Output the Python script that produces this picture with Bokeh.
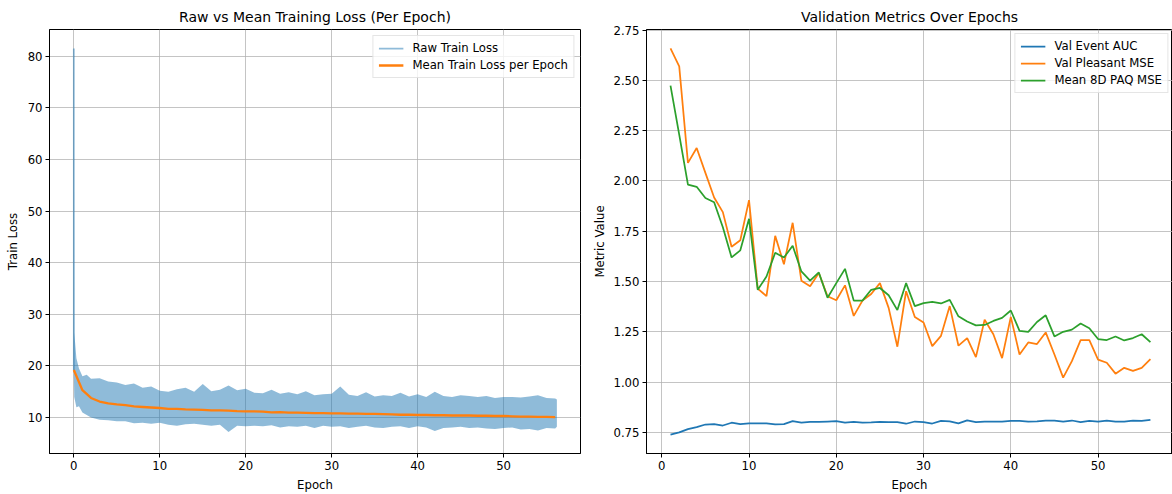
from bokeh.plotting import figure
from bokeh.layouts import row
from bokeh.models import (Range1d, FixedTicker, PrintfTickFormatter, Legend,
                          LegendItem, ColumnDataSource)
from bokeh.embed import file_html
from bokeh.resources import INLINE

FONT = "DejaVu Sans"
BLUE = "#1f77b4"
ORANGE = "#ff7f0e"
GREEN = "#2ca02c"

# ---------------- Left panel data ----------------
# Envelope of the raw (per-step) training loss
raw_x = [0, 0.05, 0.3, 0.6, 1, 1.5, 2, 3, 4, 5, 6, 7, 8, 9, 10, 11, 12, 13, 14, 15,
         16, 17, 18, 19, 20, 21, 22, 23, 24, 25, 26, 27, 28, 29, 30, 31, 32, 33, 34,
         35, 36, 37, 38, 39, 40, 41, 42, 43, 44, 45, 46, 47, 48, 49, 50, 51, 52, 53,
         54, 55, 56, 56.2]
raw_hi = [81.5, 26.5, 21.5, 19.5, 18.0, 18.3, 17.5, 17.6, 17.0, 16.8, 16.3, 16.6, 15.8,
          16.0, 15.2, 15.0, 15.5, 15.8, 15.0, 16.5, 15.1, 15.4, 16.2, 15.3, 15.6, 14.8,
          14.7, 15.4, 14.6, 14.9, 14.5, 15.1, 14.3, 14.5, 14.6, 16.0, 14.4, 14.2, 14.9,
          14.1, 14.3, 14.2, 14.8, 14.1, 14.5, 14.0, 15.0, 14.2, 14.0, 14.3, 14.2, 14.0,
          14.2, 13.8, 14.0, 14.0, 13.9, 14.1, 14.3, 13.8, 13.7, 13.5]
raw_lo = [19.2, 14.0, 12.0, 12.2, 11.0, 10.5, 10.0, 9.6, 9.5, 9.3, 9.3, 8.9, 9.0, 8.8,
          9.0, 8.6, 8.4, 8.7, 8.8, 8.6, 8.4, 8.6, 7.2, 8.4, 8.3, 8.4, 8.3, 8.5, 8.1, 8.3,
          8.2, 8.4, 8.0, 8.4, 8.2, 8.3, 8.0, 8.2, 8.4, 8.1, 8.0, 8.2, 8.3, 8.0, 8.3, 8.1,
          7.4, 8.0, 8.1, 8.2, 8.0, 8.1, 7.9, 7.8, 8.0, 8.1, 7.7, 7.8, 7.5, 8.0, 7.9, 8.2]

mean_epochs = list(range(0, 57))
mean_loss = [19.2, 15.3, 13.8, 13.1, 12.75, 12.55, 12.4, 12.15, 12.05, 11.95, 11.85,
             11.7, 11.7, 11.6, 11.55, 11.5, 11.4, 11.4, 11.35, 11.25, 11.2, 11.2, 11.15,
             11.0, 11.05, 10.95, 10.95, 10.9, 10.85, 10.85, 10.8, 10.8, 10.75, 10.75,
             10.7, 10.7, 10.65, 10.6, 10.55, 10.55, 10.5, 10.5, 10.45, 10.45, 10.4, 10.4,
             10.4, 10.35, 10.35, 10.3, 10.3, 10.25, 10.2, 10.2, 10.15, 10.15, 10.1]

left_xticks = [0, 10, 20, 30, 40, 50]
left_yticks = [10, 20, 30, 40, 50, 60, 70, 80]

# ---------------- Right panel data ----------------
val_epochs = list(range(1, 57))
val_auc = [0.739, 0.750, 0.766, 0.776, 0.789, 0.791, 0.784, 0.798, 0.791, 0.795, 0.795,
           0.795, 0.790, 0.791, 0.806, 0.799, 0.802, 0.802, 0.804, 0.806, 0.799, 0.802,
           0.799, 0.800, 0.802, 0.801, 0.801, 0.793, 0.804, 0.801, 0.794, 0.807, 0.805,
           0.795, 0.810, 0.801, 0.804, 0.804, 0.803, 0.807, 0.807, 0.804, 0.805, 0.808,
           0.808, 0.803, 0.809, 0.801, 0.807, 0.804, 0.808, 0.803, 0.804, 0.808, 0.807,
           0.812]
val_pleasant = [2.659, 2.570, 2.090, 2.164, 2.040, 1.918, 1.845, 1.673, 1.705, 1.905,
                1.465, 1.427, 1.727, 1.586, 1.792, 1.504, 1.476, 1.542, 1.427, 1.407,
                1.481, 1.329, 1.405, 1.438, 1.492, 1.369, 1.176, 1.452, 1.324, 1.296,
                1.179, 1.230, 1.378, 1.181, 1.219, 1.124, 1.310, 1.238, 1.119, 1.324,
                1.137, 1.197, 1.189, 1.247, 1.137, 1.022, 1.104, 1.209, 1.209, 1.112,
                1.096, 1.042, 1.071, 1.056, 1.071, 1.114]
val_paq = [2.474, 2.230, 1.982, 1.971, 1.915, 1.894, 1.770, 1.620, 1.655, 1.812, 1.459,
           1.525, 1.643, 1.619, 1.678, 1.550, 1.504, 1.545, 1.419, 1.492, 1.563, 1.405,
           1.405, 1.459, 1.468, 1.432, 1.358, 1.492, 1.378, 1.393, 1.399, 1.391, 1.409,
           1.327, 1.301, 1.282, 1.284, 1.304, 1.319, 1.356, 1.255, 1.250, 1.299, 1.332,
           1.227, 1.250, 1.261, 1.291, 1.268, 1.214, 1.209, 1.227, 1.207, 1.219, 1.238,
           1.199]

right_xticks = [0, 10, 20, 30, 40, 50]
right_yticks = [0.75, 1.00, 1.25, 1.50, 1.75, 2.00, 2.25, 2.50, 2.75]


def style(p, xlabel, ylabel, xticks, yticks):
    p.title.text_font = FONT
    p.title.text_font_size = "14px"
    p.title.text_font_style = "normal"
    p.title.align = "center"
    p.title.text_color = "black"
    p.outline_line_color = "black"
    p.outline_line_width = 1
    p.outline_line_alpha = 1
    p.background_fill_color = "white"
    p.border_fill_color = "white"
    for ax in p.axis:
        ax.axis_line_color = "black"
        ax.axis_line_width = 1
        ax.major_tick_line_color = "black"
        ax.major_tick_out = 4
        ax.major_tick_in = 0
        ax.minor_tick_out = 0
        ax.minor_tick_in = 0
        ax.major_label_text_font = FONT
        ax.major_label_text_font_size = "11.7px"
        ax.major_label_text_color = "black"
        ax.major_label_standoff = 3
        ax.axis_label_text_font = FONT
        ax.axis_label_text_font_size = "11.7px"
        ax.axis_label_text_font_style = "normal"
        ax.axis_label_text_color = "black"
        ax.axis_label_standoff = 5
    p.xaxis.axis_label = xlabel
    p.yaxis.axis_label = ylabel
    p.xaxis.ticker = FixedTicker(ticks=xticks)
    p.yaxis.ticker = FixedTicker(ticks=yticks)
    p.grid.grid_line_color = "#b0b0b0"
    p.grid.grid_line_alpha = 0.75
    p.grid.grid_line_width = 1


def style_legend(leg):
    leg.location = "top_right"
    leg.label_text_font = FONT
    leg.label_text_font_size = "11.7px"
    leg.label_text_color = "black"
    leg.glyph_width = 25
    leg.glyph_height = 14
    leg.label_height = 14
    leg.label_standoff = 9
    leg.spacing = 3
    leg.padding = 5
    leg.margin = 6
    leg.border_line_color = "#cccccc"
    leg.border_line_width = 1
    leg.background_fill_alpha = 0.8


# ---------------- Left figure ----------------
p1 = figure(width=590, height=494, output_backend="svg", toolbar_location=None,
            title="Raw vs Mean Training Loss (Per Epoch)",
            x_range=Range1d(-2.83, 58.95), y_range=Range1d(3.04, 85.17),
            min_border_left=49, min_border_right=10, min_border_top=29,
            min_border_bottom=37)
style(p1, "Epoch", "Train Loss", left_xticks, left_yticks)

raw_src = ColumnDataSource(dict(x=raw_x, lo=raw_lo, hi=raw_hi))
p1.varea(x="x", y1="lo", y2="hi", source=raw_src, fill_color=BLUE, fill_alpha=0.5)
raw_spike = p1.segment(x0=raw_x[:1], y0=raw_lo[:1], x1=raw_x[:1], y1=raw_hi[:1],
                       line_color=BLUE, line_alpha=0.5, line_width=1.75)
mean_r = p1.line(mean_epochs, mean_loss, line_color=ORANGE, line_width=2.3)

leg1 = Legend(items=[LegendItem(label="Raw Train Loss", renderers=[raw_spike]),
                     LegendItem(label="Mean Train Loss per Epoch", renderers=[mean_r])])
style_legend(leg1)
p1.add_layout(leg1, "center")

# ---------------- Right figure ----------------
p2 = figure(width=582, height=494, output_backend="svg", toolbar_location=None,
            title="Validation Metrics Over Epochs",
            x_range=Range1d(-1.75, 58.53), y_range=Range1d(0.645, 2.753),
            min_border_left=53, min_border_right=0, min_border_top=29,
            min_border_bottom=37)
style(p2, "Epoch", "Metric Value", right_xticks, right_yticks)
p2.yaxis.formatter = PrintfTickFormatter(format="%.2f")
p2.yaxis.axis_label_standoff = 3

r_auc = p2.line(val_epochs, val_auc, line_color=BLUE, line_width=1.75)
r_pl = p2.line(val_epochs, val_pleasant, line_color=ORANGE, line_width=1.75)
r_paq = p2.line(val_epochs, val_paq, line_color=GREEN, line_width=1.75)

leg2 = Legend(items=[LegendItem(label="Val Event AUC", renderers=[r_auc]),
                     LegendItem(label="Val Pleasant MSE", renderers=[r_pl]),
                     LegendItem(label="Mean 8D PAQ MSE", renderers=[r_paq])])
style_legend(leg2)
leg2.margin = 4
p2.add_layout(leg2, "center")

layout = row(p1, p2, spacing=0)
open("out.html", "w").write(file_html(layout, INLINE))
